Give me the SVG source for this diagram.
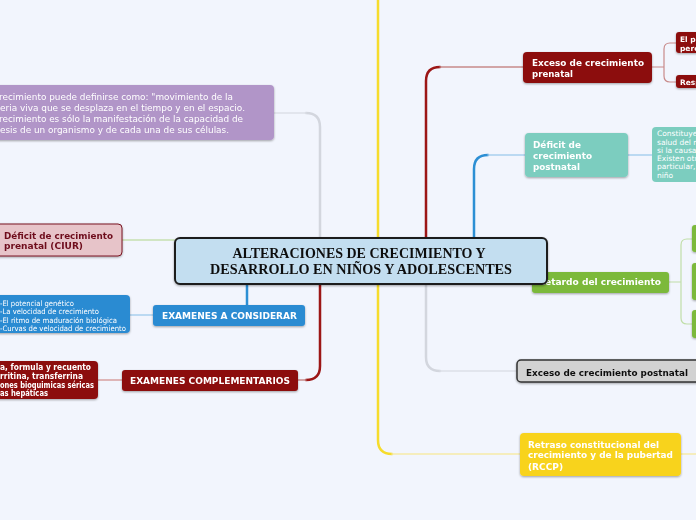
<svg xmlns="http://www.w3.org/2000/svg" width="696" height="520" viewBox="0 0 696 520">
<defs>
<filter id="sh" x="-10%" y="-20%" width="120%" height="150%">
<feDropShadow dx="0" dy="1" stdDeviation="0.8" flood-color="#000" flood-opacity="0.35"/>
</filter>
<style>
.t{font-family:"DejaVu Sans",Verdana,sans-serif;fill:#fff}
.b{font-weight:bold}
.c{fill:none;stroke-linecap:round}
.node{filter:url(#sh)}
</style>
</defs>
<rect width="696" height="520" fill="#f2f5fd"/>
<g id="connectors">
<path class="c" d="M378,0 V440 Q378,454 392,454" stroke="#f6dc2c" stroke-width="2.5"/>
<path class="c" d="M392,454 H520" stroke="#f6eaa8" stroke-width="1.5"/>
<path class="c" d="M681,454 H696" stroke="#f6eaa8" stroke-width="1.5"/>
<path class="c" d="M426,238 V81 Q426,67 440,67" stroke="#9c1616" stroke-width="2.5"/>
<path class="c" d="M440,67 H524" stroke="#c88a8a" stroke-width="1.3"/>
<path class="c" d="M474,238 V169 Q474,155 488,155" stroke="#2d8fd4" stroke-width="2.5"/>
<path class="c" d="M488,155 H526" stroke="#a9cfee" stroke-width="1.3"/>
<path class="c" d="M320,238 V127 Q320,113 306,113" stroke="#d3d6de" stroke-width="2.5"/>
<path class="c" d="M306,113 H274" stroke="#dde0e8" stroke-width="1.3"/>
<path class="c" d="M320,284 V366 Q320,380 306,380" stroke="#9c1616" stroke-width="2.5"/>
<path class="c" d="M306,380 H298" stroke="#c88a8a" stroke-width="1.3"/>
<path class="c" d="M247,284 V305" stroke="#2d8fd4" stroke-width="2.5"/>
<path class="c" d="M426,284 V357 Q426,371 440,371" stroke="#d3d6de" stroke-width="2.5"/>
<path class="c" d="M440,371 H517" stroke="#dde0e8" stroke-width="1.3"/>
<path class="c" d="M122,240 H175" stroke="#c6e0b0" stroke-width="1.3"/>
<path class="c" d="M130,315 H153" stroke="#a9cfee" stroke-width="1.3"/>
<path class="c" d="M98,380 H122" stroke="#d8a0a0" stroke-width="1.3"/>
<path class="c" d="M628,155 H652" stroke="#a9cfee" stroke-width="1.3"/>
<path class="c" d="M652,67 H664 M676,43 H670 Q664,43 664,49 V76 Q664,82 670,82 H676" stroke="#c88a8a" stroke-width="1.2"/>
<path class="c" d="M669,282 H681 M692,239 H687 Q681,239 681,245 V318 Q681,324 687,324 H692" stroke="#c0dea8" stroke-width="1.2"/>
</g>
<g id="purple" class="node">
<rect x="-10" y="85" width="284" height="55" rx="4" fill="#b195c8"/>
<text class="t" font-size="9"><tspan x="-1" y="100" textLength="234" lengthAdjust="spacingAndGlyphs">recimiento puede definirse como: "movimiento de la</tspan><tspan x="0" y="111" textLength="245" lengthAdjust="spacingAndGlyphs">eria viva que se desplaza en el tiempo y en el espacio.</tspan><tspan x="-1" y="122" textLength="244" lengthAdjust="spacingAndGlyphs">recimiento es sólo la manifestación de la capacidad de</tspan><tspan x="0" y="133" textLength="229" lengthAdjust="spacingAndGlyphs">esis de un organismo y de cada una de sus células.</tspan></text>
</g>
<g id="ciur" class="node">
<rect x="-10" y="224" width="132" height="32" rx="4" fill="#e7c4c9" stroke="#7a1424" stroke-width="1"/>
<text class="t b" font-size="9" fill="#6e0c1c" style="fill:#6e0c1c"><tspan x="4" y="238.5" textLength="109" lengthAdjust="spacingAndGlyphs">Déficit de crecimiento</tspan><tspan x="4" y="249" textLength="79" lengthAdjust="spacingAndGlyphs">prenatal (CIUR)</tspan></text>
</g>
<g id="considerar-child" class="node">
<rect x="-10" y="295" width="140" height="38" rx="4" fill="#2b8bd2"/>
<text class="t" font-size="7.5"><tspan x="0" y="305.5" textLength="74" lengthAdjust="spacingAndGlyphs">-El potencial genético</tspan><tspan x="0" y="314" textLength="99" lengthAdjust="spacingAndGlyphs">-La velocidad de crecimiento</tspan><tspan x="0" y="322.5" textLength="117" lengthAdjust="spacingAndGlyphs">-El ritmo de maduración biológica</tspan><tspan x="0" y="331" textLength="126" lengthAdjust="spacingAndGlyphs">-Curvas de velocidad de crecimiento</tspan></text>
</g>
<g id="considerar" class="node">
<rect x="153" y="305" width="152" height="21" rx="3" fill="#2b8bd2"/>
<text class="t b" font-size="9" x="229.5" y="319" text-anchor="middle" textLength="135" lengthAdjust="spacingAndGlyphs">EXAMENES A CONSIDERAR</text>
</g>
<g id="complementarios-child" class="node">
<rect x="-10" y="361" width="108" height="38" rx="4" fill="#8c0b0b"/>
<text class="t b" font-size="8"><tspan x="0" y="370" textLength="91" lengthAdjust="spacingAndGlyphs">a, formula y recuento</tspan><tspan x="0" y="379" textLength="83" lengthAdjust="spacingAndGlyphs">rritina, transferrina</tspan><tspan x="0" y="387.5" textLength="94" lengthAdjust="spacingAndGlyphs">ones bioquimicas séricas</tspan><tspan x="0" y="396" textLength="48" lengthAdjust="spacingAndGlyphs">as hepáticas</tspan></text>
</g>
<g id="complementarios" class="node">
<rect x="122" y="370" width="176" height="21" rx="3" fill="#8c0b0b"/>
<text class="t b" font-size="9" x="210" y="384" text-anchor="middle" textLength="160" lengthAdjust="spacingAndGlyphs">EXAMENES COMPLEMENTARIOS</text>
</g>
<g id="exceso-prenatal" class="node">
<rect x="523" y="52" width="129" height="31" rx="4" fill="#8c0b0b"/>
<text class="t b" font-size="9.5"><tspan x="532" y="66" textLength="112" lengthAdjust="spacingAndGlyphs">Exceso de crecimiento</tspan><tspan x="532" y="76.5" textLength="41" lengthAdjust="spacingAndGlyphs">prenatal</tspan></text>
</g>
<g id="exceso-prenatal-1" class="node">
<rect x="676" y="32" width="30" height="21" rx="3" fill="#8c0b0b"/>
<text class="t b" font-size="7.5"><tspan x="680" y="42">El pe</tspan><tspan x="680" y="51">perc</tspan></text>
</g>
<g id="exceso-prenatal-2" class="node">
<rect x="676" y="75" width="30" height="13" rx="3" fill="#8c0b0b"/>
<text class="t b" font-size="7.5" x="680" y="84.5">Resp</text>
</g>
<g id="deficit-postnatal" class="node">
<rect x="525" y="133" width="103" height="44" rx="4" fill="#7ccdbf"/>
<text class="t b" font-size="9.5"><tspan x="533" y="147.5" textLength="48" lengthAdjust="spacingAndGlyphs">Déficit de</tspan><tspan x="533" y="158.5" textLength="59" lengthAdjust="spacingAndGlyphs">crecimiento</tspan><tspan x="533" y="169.5" textLength="47" lengthAdjust="spacingAndGlyphs">postnatal</tspan></text>
</g>
<g id="deficit-postnatal-child">
<rect x="652" y="127" width="60" height="55" rx="4" fill="#7ccdbf"/>
<text class="t" font-size="7.5"><tspan x="657" y="136">Constituyen</tspan><tspan x="657" y="145">salud del ni</tspan><tspan x="657" y="153">si la causa</tspan><tspan x="657" y="161">Existen otra</tspan><tspan x="657" y="169">particular, a</tspan><tspan x="657" y="178">niño</tspan></text>
</g>
<g id="retardo" class="node">
<rect x="532" y="272" width="137" height="21" rx="3" fill="#7bb93b"/>
<text class="t b" font-size="9" x="538" y="285" textLength="123" lengthAdjust="spacingAndGlyphs">Retardo del crecimiento</text>
</g>
<g id="retardo-1" class="node"><rect x="692" y="225" width="20" height="27" rx="3" fill="#7bb93b"/></g>
<g id="retardo-2" class="node"><rect x="692" y="263" width="20" height="37" rx="3" fill="#7bb93b"/></g>
<g id="retardo-3" class="node"><rect x="692" y="310" width="20" height="28" rx="3" fill="#7bb93b"/></g>
<g id="center" class="node">
<rect x="175" y="238" width="372" height="46" rx="5" fill="#c3def0" stroke="#1e1e1e" stroke-width="2"/>
<text font-family="'Liberation Serif','Times New Roman',serif" font-weight="bold" font-size="15" fill="#111" text-anchor="middle"><tspan x="359" y="258" textLength="253" lengthAdjust="spacingAndGlyphs">ALTERACIONES DE CRECIMIENTO Y</tspan><tspan x="361" y="273.5" textLength="302" lengthAdjust="spacingAndGlyphs">DESARROLLO EN NIÑOS Y ADOLESCENTES</tspan></text>
</g>
<g id="exceso-postnatal" class="node">
<rect x="517" y="360" width="186" height="22" rx="4" fill="#d2d2d2" stroke="#333" stroke-width="1.5"/>
<text class="t b" font-size="9" style="fill:#111" x="526" y="375.5" textLength="162" lengthAdjust="spacingAndGlyphs">Exceso de crecimiento postnatal</text>
</g>
<g id="retraso" class="node">
<rect x="520" y="433" width="161" height="43" rx="4" fill="#f8d31f"/>
<text class="t b" font-size="9.5"><tspan x="528" y="447.5" textLength="131" lengthAdjust="spacingAndGlyphs">Retraso constitucional del</tspan><tspan x="528" y="458" textLength="145" lengthAdjust="spacingAndGlyphs">crecimiento y de la pubertad</tspan><tspan x="528" y="469.5" textLength="35" lengthAdjust="spacingAndGlyphs">(RCCP)</tspan></text>
</g>
</svg>
